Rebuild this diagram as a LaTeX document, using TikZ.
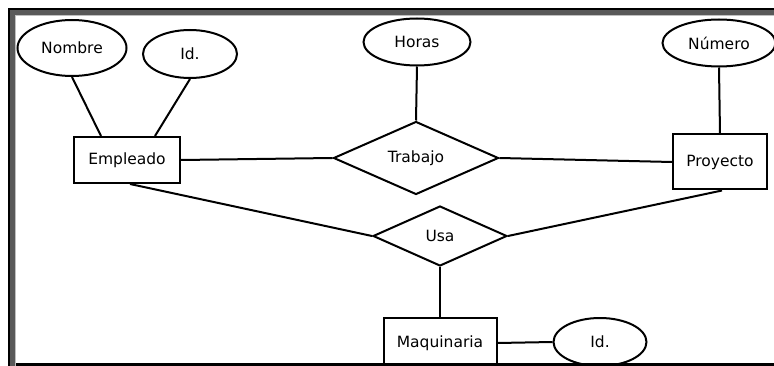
\documentclass[tikz,border=0pt]{standalone}
\usepackage{fontspec}
\setmainfont{DejaVu Sans}
\usetikzlibrary{shapes.geometric}
\tikzset{
  ent/.style={draw, line width=2pt, rectangle, inner sep=0pt, fill=white},
  attr/.style={draw, line width=2pt, ellipse, inner sep=0pt, fill=white},
  rel/.style={draw, line width=2pt, diamond, inner sep=0pt, shape aspect=2.2, fill=white},
  conn/.style={line width=2pt},
}
\begin{document}
\begin{tikzpicture}[x=1pt,y=-1pt,font=\fontsize{15.5}{18}\selectfont]
\useasboundingbox (0,0) rectangle (774,366);
\fill[white] (0,0) rectangle (774,366);
% frame
\fill[black] (8,8) rectangle (774,10);
\fill[black] (8,8) rectangle (10,366);
\fill[black!65] (10,10) rectangle (774,15);
\fill[black!65] (10,10) rectangle (15,366);
\fill[black!25] (15,15) rectangle (774,16);
\fill[black!25] (15,15) rectangle (16,366);
\begin{scope}
\clip (16,16) rectangle (774,363);
% nodes
\node[attr, minimum width=109pt, minimum height=56pt] (nom) at (72,48) {Nombre};
\node[attr, minimum width=94pt, minimum height=48pt] (ide) at (190,54) {Id.};
\node[ent, minimum width=106pt, minimum height=46pt] (emp) at (127,160) {Empleado};
\node[attr, minimum width=107pt, minimum height=47pt] (hor) at (417,42) {Horas};
\node[rel, minimum width=165pt, minimum height=73pt] (tra) at (416,158) {Trabajo};
\node[attr, minimum width=113pt, minimum height=47pt] (num) at (719,43) {Número};
\node[ent, minimum width=94pt, minimum height=55pt] (pro) at (720,162) {Proyecto};
\node[rel, minimum width=134pt, minimum height=60pt] (usa) at (440,236) {Usa};
\node[ent, minimum width=113pt, minimum height=50pt] (maq) at (440,343) {Maquinaria};
\node[attr, minimum width=93pt, minimum height=48pt] (idm) at (600,342) {Id.};
% connectors
\draw[conn] (nom.south) -- ([xshift=-26pt]emp.north);
\draw[conn] (ide.south) -- ([xshift=28pt]emp.north);
\draw[conn] (hor.south) -- (tra.north);
\draw[conn] (num.south) -- (pro.north);
\draw[conn] (emp.east) -- (tra.west);
\draw[conn] (tra.east) -- (pro.west);
\draw[conn] ([xshift=3pt]emp.south) -- (usa.west);
\draw[conn] ([xshift=2pt]pro.south) -- (usa.east);
\draw[conn] (usa.south) -- (maq.north);
\draw[conn] (maq.east) -- (idm.west);
\end{scope}
\fill[black] (16,363) rectangle (774,366);
\end{tikzpicture}
\end{document}
